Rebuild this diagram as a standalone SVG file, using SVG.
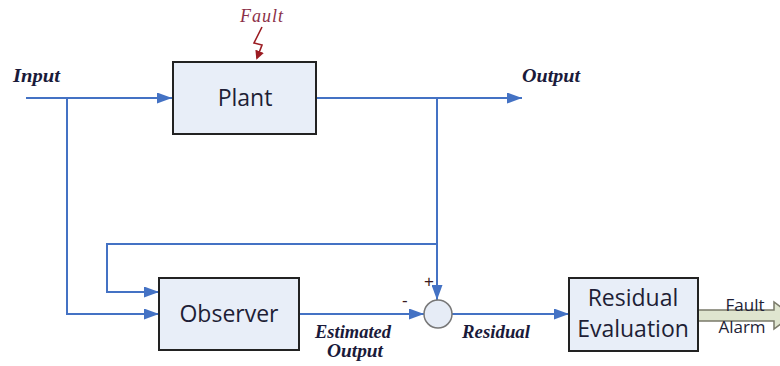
<svg xmlns="http://www.w3.org/2000/svg" width="780" height="366" viewBox="0 0 780 366">
<defs>
<marker id="ah" viewBox="0 0 15 11" refX="15" refY="5.5" markerWidth="15" markerHeight="11" markerUnits="userSpaceOnUse" orient="auto">
<path d="M0,0 L15,5.5 L0,11 Z" fill="#4472c4"/>
</marker>
<marker id="ahr" viewBox="0 0 10 10" refX="8" refY="5" markerWidth="9" markerHeight="9" markerUnits="userSpaceOnUse" orient="auto">
<path d="M0,0 L10,5 L0,10 Z" fill="#9b1c22"/>
</marker>
</defs>
<style>
.box{fill:#e8eef8;stroke:#222;stroke-width:2}
.wire{fill:none;stroke:#4472c4;stroke-width:2}
.bt{font-family:"Open Sans","DejaVu Sans",sans-serif;font-size:23px;fill:#1e1e36;text-anchor:middle}
.lb{font-family:"Liberation Serif",serif;font-style:italic;font-weight:bold;font-size:19px;fill:#1a1a3a}
.sg{font-family:"Liberation Sans",sans-serif;font-size:17px;fill:#3a1a20}
</style>
<rect width="780" height="366" fill="#fff"/>
<g id="connectors">
<path class="wire" d="M26,98 H172" marker-end="url(#ah)"/>
<path class="wire" d="M67,98 V314 H159" marker-end="url(#ah)"/>
<path class="wire" d="M316,98 H522" marker-end="url(#ah)"/>
<path class="wire" d="M437,98 V300" marker-end="url(#ah)"/>
<path class="wire" d="M437,244 H107 V292 H159" marker-end="url(#ah)"/>
<path class="wire" d="M299,314 H424" marker-end="url(#ah)"/>
<path class="wire" d="M452,314 H569" marker-end="url(#ah)"/>
<path d="M262,27 L254,43 L262,45 L257,58" fill="none" stroke="#9b1c22" stroke-width="1.6" marker-end="url(#ahr)"/>
<path d="M698,310 H774 V302 L792,315.5 L774,329 V321 H698 Z" fill="#dfe5cf" stroke="#7a7a6a" stroke-width="1.5"/>
</g>
<g id="plant">
<rect class="box" x="173" y="62" width="143" height="72"/>
<text class="bt" x="245" y="106">Plant</text>
</g>
<g id="observer">
<rect class="box" x="159" y="278" width="140" height="72"/>
<text class="bt" x="229" y="322">Observer</text>
</g>
<g id="sum">
<circle cx="438" cy="314" r="14" fill="#e6ecf6" stroke="#777" stroke-width="1.5"/>
</g>
<g id="residual-evaluation">
<rect class="box" x="569" y="278" width="129" height="73"/>
<text class="bt" x="633" y="306">Residual</text>
<text class="bt" x="633" y="337">Evaluation</text>
</g>
<g id="labels">
<text x="240" y="22" font-family="Liberation Serif,serif" font-style="italic" font-size="18" fill="#8b3048" textLength="43">Fault</text>
<text class="lb" x="13" y="82" textLength="47" lengthAdjust="spacingAndGlyphs">Input</text>
<text class="lb" x="522" y="82" textLength="58" lengthAdjust="spacingAndGlyphs">Output</text>
<text class="lb" x="315" y="338" textLength="76" lengthAdjust="spacingAndGlyphs">Estimated</text>
<text class="lb" x="327" y="357" textLength="56" lengthAdjust="spacingAndGlyphs">Output</text>
<text class="lb" x="462" y="338" textLength="68" lengthAdjust="spacingAndGlyphs">Residual</text>
<text class="sg" x="424" y="287">+</text>
<text class="sg" x="402" y="306">-</text>
<text x="745" y="311" font-family="Open Sans,DejaVu Sans,sans-serif" font-size="17" fill="#1e1e36" text-anchor="middle">Fault</text>
<text x="742" y="333" font-family="Open Sans,DejaVu Sans,sans-serif" font-size="17" fill="#1e1e36" text-anchor="middle">Alarm</text>
</g>
</svg>
